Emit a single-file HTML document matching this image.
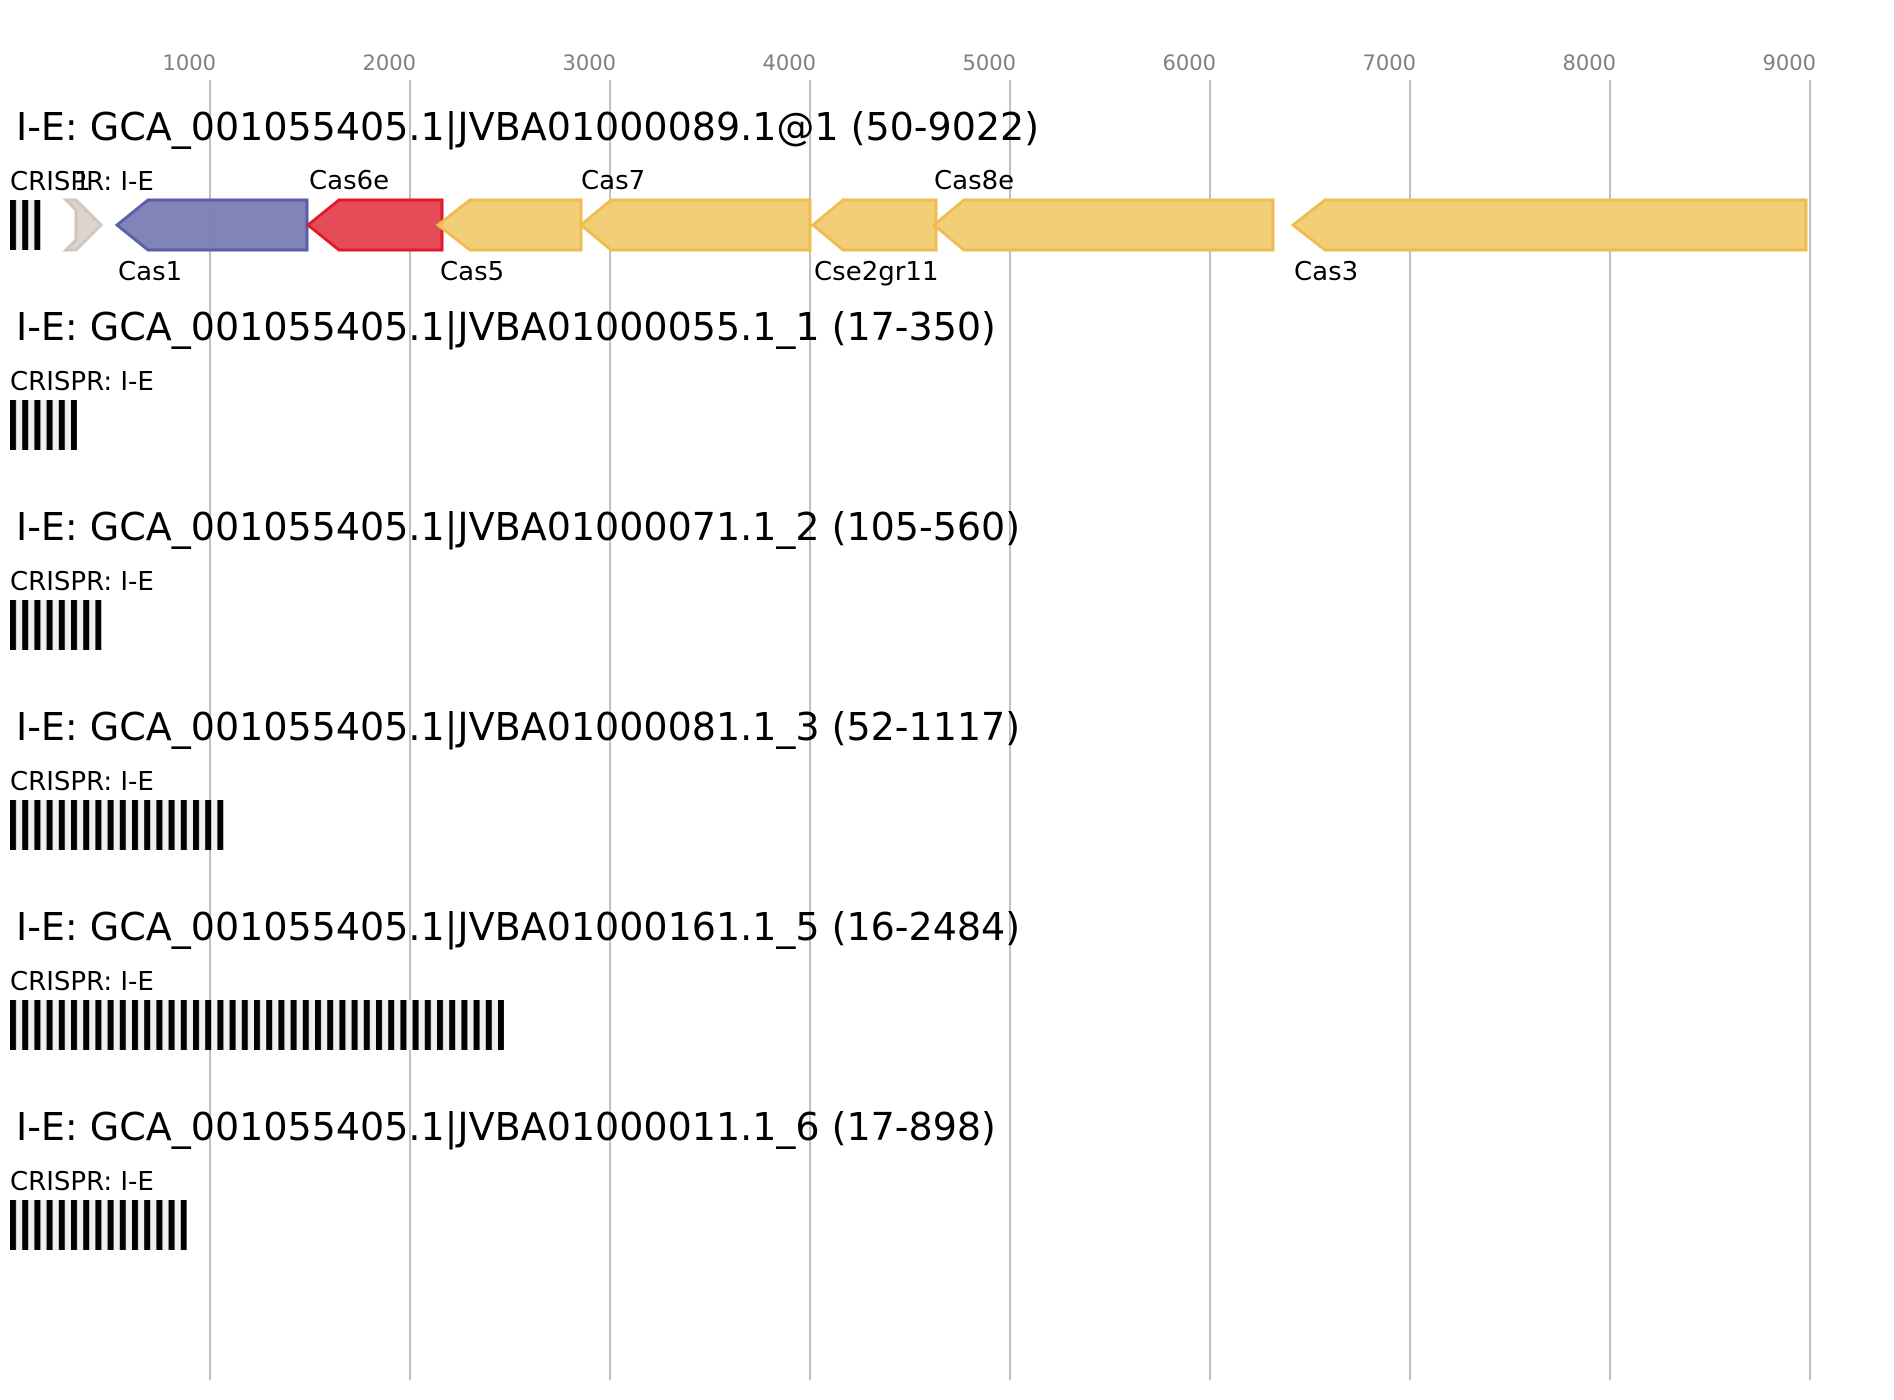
<!DOCTYPE html>
<html><head><meta charset="utf-8"><style>
html,body{margin:0;padding:0;background:#fff;}
svg{display:block;}
text{font-family:"DejaVu Sans","Liberation Sans",sans-serif;}
</style></head><body>
<svg width="1894" height="1400" viewBox="0 0 1894 1400" xmlns="http://www.w3.org/2000/svg">
<defs>
<pattern id="cr" patternUnits="userSpaceOnUse" x="10" y="0" width="12.2" height="50">
<rect x="0" y="0" width="12.2" height="50" fill="#efefef"/>
<rect x="0" y="0" width="6" height="50" fill="#000"/>
</pattern>
</defs>
<g stroke="#c0c0c0" stroke-width="2">
<line x1="210" y1="80" x2="210" y2="1380"/><line x1="410" y1="80" x2="410" y2="1380"/>
<line x1="610" y1="80" x2="610" y2="1380"/><line x1="810" y1="80" x2="810" y2="1380"/>
<line x1="1010" y1="80" x2="1010" y2="1380"/><line x1="1210" y1="80" x2="1210" y2="1380"/>
<line x1="1410" y1="80" x2="1410" y2="1380"/><line x1="1610" y1="80" x2="1610" y2="1380"/>
<line x1="1810" y1="80" x2="1810" y2="1380"/>
</g>
<g fill="#808080" font-size="21" text-anchor="end">
<text x="216" y="70">1000</text><text x="416" y="70">2000</text><text x="616" y="70">3000</text>
<text x="816" y="70">4000</text><text x="1016" y="70">5000</text><text x="1216" y="70">6000</text>
<text x="1416" y="70">7000</text><text x="1616" y="70">8000</text><text x="1816" y="70">9000</text>
</g>
<g font-size="38" fill="#000">
<text x="16" y="140">I-E: GCA_001055405.1|JVBA01000089.1@1 (50-9022)</text>
<text x="16" y="340">I-E: GCA_001055405.1|JVBA01000055.1_1 (17-350)</text>
<text x="16" y="540">I-E: GCA_001055405.1|JVBA01000071.1_2 (105-560)</text>
<text x="16" y="740">I-E: GCA_001055405.1|JVBA01000081.1_3 (52-1117)</text>
<text x="16" y="940">I-E: GCA_001055405.1|JVBA01000161.1_5 (16-2484)</text>
<text x="16" y="1140">I-E: GCA_001055405.1|JVBA01000011.1_6 (17-898)</text>
</g>
<g font-size="26" fill="#000">
<text x="10" y="190">CRISPR: I-E</text>
<text x="10" y="390">CRISPR: I-E</text>
<text x="10" y="590">CRISPR: I-E</text>
<text x="10" y="790">CRISPR: I-E</text>
<text x="10" y="990">CRISPR: I-E</text>
<text x="10" y="1190">CRISPR: I-E</text>
<text x="74" y="190">1</text>
<text x="309" y="189">Cas6e</text><text x="581" y="189">Cas7</text><text x="934" y="189">Cas8e</text>
<text x="118" y="280">Cas1</text><text x="440" y="280">Cas5</text><text x="814" y="280">Cse2gr11</text><text x="1294" y="280">Cas3</text>
</g>
<g transform="translate(0,200)"><rect x="10" y="0" width="30.4" height="50" fill="url(#cr)"/></g>
<g transform="translate(0,400)"><rect x="10" y="0" width="67" height="50" fill="url(#cr)"/></g>
<g transform="translate(0,600)"><rect x="10" y="0" width="91.4" height="50" fill="url(#cr)"/></g>
<g transform="translate(0,800)"><rect x="10" y="0" width="213.4" height="50" fill="url(#cr)"/></g>
<g transform="translate(0,1000)"><rect x="10" y="0" width="494" height="50" fill="url(#cr)"/></g>
<g transform="translate(0,1200)"><rect x="10" y="0" width="176.8" height="50" fill="url(#cr)"/></g>
<polygon points="66,200 76,200 101,225 76,250 66,250 76,240 76,210" fill="#ddd4cd" stroke="#d2c6bc" stroke-width="3"/>
<g stroke-width="3" stroke-linejoin="miter">
<polygon points="117,225 148,200 307,200 307,250 148,250" fill="#7b7db5" fill-opacity="0.95" stroke="#5a5ea8"/>
<polygon points="308,225 339,200 442,200 442,250 339,250" fill="#e5414f" fill-opacity="0.95" stroke="#e01a2a"/>
<g fill="#f1cb72" fill-opacity="0.95" stroke="#efbd4f">
<polygon points="438,225 470,200 581,200 581,250 470,250"/>
<polygon points="581,225 611,200 810,200 810,250 611,250"/>
<polygon points="813,225 843,200 936,200 936,250 843,250"/>
<polygon points="934,225 964,200 1273,200 1273,250 964,250"/>
<polygon points="1293,225 1325,200 1806,200 1806,250 1325,250"/>
</g>
</g>
</svg>
</body></html>
